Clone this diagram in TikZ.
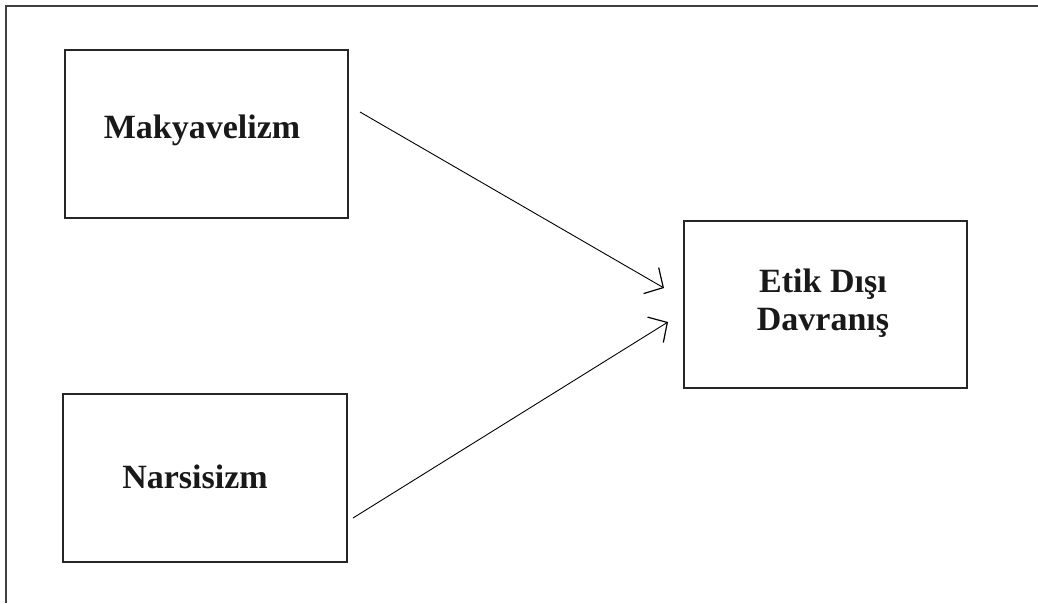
\documentclass[tikz,border=0pt]{standalone}
\usepackage{fontspec}
\setmainfont{Liberation Serif}
\usetikzlibrary{arrows.meta}
\begin{document}
\begin{tikzpicture}[x=1pt,y=-1pt,
  box/.style={draw=black!85,line width=1.6pt},
  lbl/.style={font=\fontsize{34}{38}\selectfont\bfseries,text=black!90,inner sep=0pt,anchor=base,align=center},
  arr/.style={line width=0.9pt,-{Straight Barb[length=14pt,width=30pt,line width=1.2pt]}}]
\useasboundingbox (0,0) rectangle (1038,603);
\draw[black!75,line width=2pt] (1038,6) -- (6,6) -- (6,603);
\draw[box] (65,50) rectangle (348,218);
\draw[box] (63,394) rectangle (347,562);
\draw[box] (684,221) rectangle (967,388);
\node[lbl] (mak) at (202,138) {Makyavelizm};
\node[lbl] (nar) at (195,488) {Narsisizm};
\node[lbl] (etik) at (823,330) {Etik Dışı\\Davranış};
\coordinate (s1) at (360,112);
\coordinate (e1) at (664,288);
\coordinate (s2) at (353,518);
\coordinate (e2) at (668,322);
\draw[arr] (s1) -- (e1);
\draw[arr] (s2) -- (e2);
\end{tikzpicture}
\end{document}
